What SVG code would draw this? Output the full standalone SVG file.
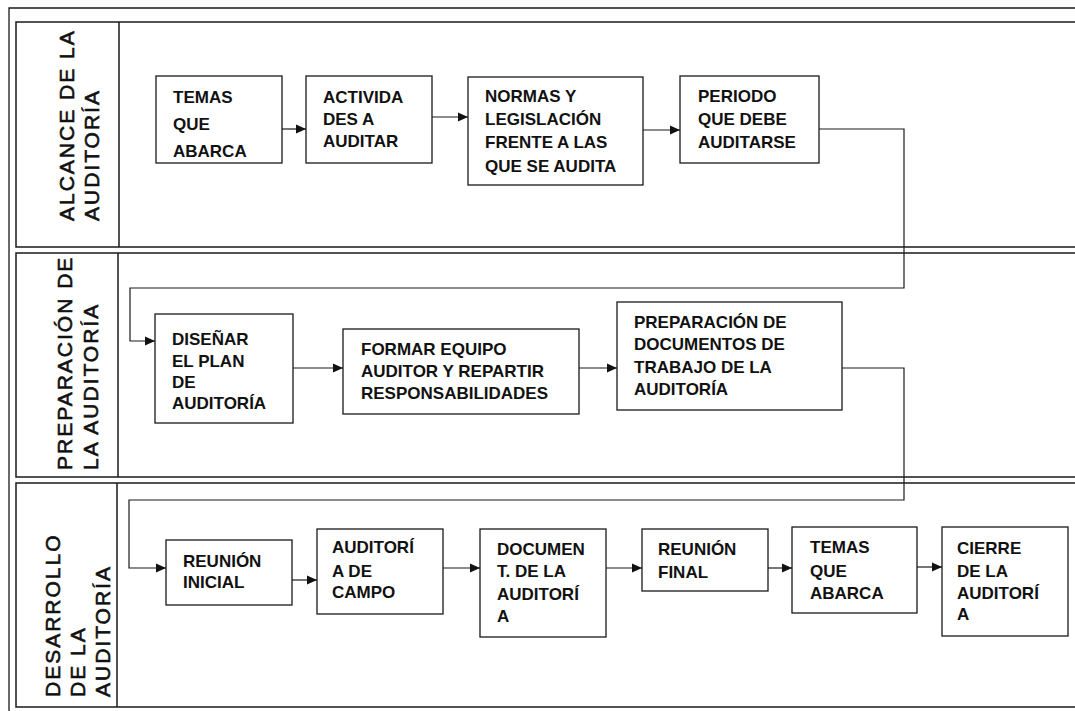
<svg xmlns="http://www.w3.org/2000/svg" width="1075" height="711" viewBox="0 0 1075 711">
<style>
.frame{fill:none;stroke:#1a1a1a;stroke-width:1.3}
.lane{fill:none;stroke:#1a1a1a;stroke-width:1.5}
.box{fill:#fff;stroke:#1a1a1a;stroke-width:1.3}
.hdr{font-family:"Liberation Sans",Arial,sans-serif;font-size:21px;letter-spacing:2px;fill:#111;stroke:#111;stroke-width:0.6}
.t{font-family:"Liberation Sans",Arial,sans-serif;font-size:17px;font-weight:bold;fill:#111}
.c{fill:none;stroke:#1a1a1a;stroke-width:1.2}
</style>
<defs>
<marker id="ah" markerUnits="userSpaceOnUse" markerWidth="12" markerHeight="12" refX="10" refY="6" orient="auto">
<path d="M0,1.5 L10,6 L0,10.5 Z" fill="#111"/>
</marker>
</defs>
<rect width="1075" height="711" fill="#fff"/>
<g id="frame">
<path class="frame" d="M9,711 V8 H1075"/>
</g>
<g id="lane1">
<path class="lane" d="M1075,22 H16 V247 H1075 M119,22 V247"/>
<text class="hdr" transform="translate(74,221) rotate(-90)">ALCANCE DE LA</text>
<text class="hdr" transform="translate(99,221) rotate(-90)">AUDITORÍA</text>
</g>
<g id="lane2">
<path class="lane" d="M1075,253 H16 V477 H1075 M118,253 V477"/>
<text class="hdr" transform="translate(72,470) rotate(-90)">PREPARACIÓN DE</text>
<text class="hdr" transform="translate(98,470) rotate(-90)">LA AUDITORÍA</text>
</g>
<g id="lane3">
<path class="lane" d="M1075,483 H16 V707 H1075 M117,483 V707"/>
<text class="hdr" transform="translate(60,697) rotate(-90)">DESARROLLO</text>
<text class="hdr" transform="translate(85,697) rotate(-90)">DE LA</text>
<text class="hdr" transform="translate(110,697) rotate(-90)">AUDITORÍA</text>
</g>
<g id="connectors">
<path class="c" marker-end="url(#ah)" d="M282,129 H306"/>
<path class="c" marker-end="url(#ah)" d="M432,117 H468"/>
<path class="c" marker-end="url(#ah)" d="M643,130 H680"/>
<path class="c" marker-end="url(#ah)" d="M819,129 H904 V288 H130 V341 H155"/>
<path class="c" marker-end="url(#ah)" d="M293,368 H343"/>
<path class="c" marker-end="url(#ah)" d="M579,368 H617"/>
<path class="c" marker-end="url(#ah)" d="M842,368 H904 V500 H129 V568 H166"/>
<path class="c" marker-end="url(#ah)" d="M292,580 H317"/>
<path class="c" marker-end="url(#ah)" d="M443,568 H480"/>
<path class="c" marker-end="url(#ah)" d="M606,568 H642"/>
<path class="c" marker-end="url(#ah)" d="M768,568 H792"/>
<path class="c" marker-end="url(#ah)" d="M917,567 H942"/>
</g>
<g id="n1">
<rect class="box" x="156" y="76" width="126" height="87"/>
<text class="t" x="173" y="103">TEMAS</text>
<text class="t" x="173" y="130">QUE</text>
<text class="t" x="173" y="157">ABARCA</text>
</g>
<g id="n2">
<rect class="box" x="306" y="76" width="126" height="87"/>
<text class="t" x="323" y="103">ACTIVIDA</text>
<text class="t" x="323" y="125">DES A</text>
<text class="t" x="323" y="147">AUDITAR</text>
</g>
<g id="n3">
<rect class="box" x="468" y="77" width="175" height="108"/>
<text class="t" x="485" y="102">NORMAS Y</text>
<text class="t" x="485" y="125">LEGISLACIÓN</text>
<text class="t" x="485" y="148">FRENTE A LAS</text>
<text class="t" x="485" y="172">QUE SE AUDITA</text>
</g>
<g id="n4">
<rect class="box" x="680" y="76" width="139" height="87"/>
<text class="t" x="698" y="102">PERIODO</text>
<text class="t" x="698" y="125">QUE DEBE</text>
<text class="t" x="698" y="148">AUDITARSE</text>
</g>
<g id="n5">
<rect class="box" x="155" y="314" width="138" height="109"/>
<text class="t" x="172" y="345">DISEÑAR</text>
<text class="t" x="172" y="367">EL PLAN</text>
<text class="t" x="172" y="388">DE</text>
<text class="t" x="172" y="409">AUDITORÍA</text>
</g>
<g id="n6">
<rect class="box" x="343" y="329" width="236" height="85"/>
<text class="t" x="361" y="355">FORMAR EQUIPO</text>
<text class="t" x="361" y="377">AUDITOR Y REPARTIR</text>
<text class="t" x="361" y="399">RESPONSABILIDADES</text>
</g>
<g id="n7">
<rect class="box" x="617" y="302" width="225" height="108"/>
<text class="t" x="634" y="328">PREPARACIÓN DE</text>
<text class="t" x="634" y="350">DOCUMENTOS DE</text>
<text class="t" x="634" y="373">TRABAJO DE LA</text>
<text class="t" x="634" y="395">AUDITORÍA</text>
</g>
<g id="n8">
<rect class="box" x="166" y="540" width="126" height="65"/>
<text class="t" x="183" y="567">REUNIÓN</text>
<text class="t" x="183" y="588">INICIAL</text>
</g>
<g id="n9">
<rect class="box" x="317" y="529" width="126" height="85"/>
<text class="t" x="332" y="553">AUDITORÍ</text>
<text class="t" x="332" y="577">A DE</text>
<text class="t" x="332" y="598">CAMPO</text>
</g>
<g id="n10">
<rect class="box" x="480" y="529" width="126" height="108"/>
<text class="t" x="497" y="555">DOCUMEN</text>
<text class="t" x="497" y="577">T. DE LA</text>
<text class="t" x="497" y="600">AUDITORÍ</text>
<text class="t" x="497" y="622">A</text>
</g>
<g id="n11">
<rect class="box" x="642" y="529" width="126" height="62"/>
<text class="t" x="658" y="555">REUNIÓN</text>
<text class="t" x="658" y="578">FINAL</text>
</g>
<g id="n12">
<rect class="box" x="792" y="527" width="125" height="86"/>
<text class="t" x="810" y="553">TEMAS</text>
<text class="t" x="810" y="577">QUE</text>
<text class="t" x="810" y="599">ABARCA</text>
</g>
<g id="n13">
<rect class="box" x="942" y="527" width="126" height="109"/>
<text class="t" x="957" y="554">CIERRE</text>
<text class="t" x="957" y="577">DE LA</text>
<text class="t" x="957" y="599">AUDITORÍ</text>
<text class="t" x="957" y="620">A</text>
</g>
</svg>
